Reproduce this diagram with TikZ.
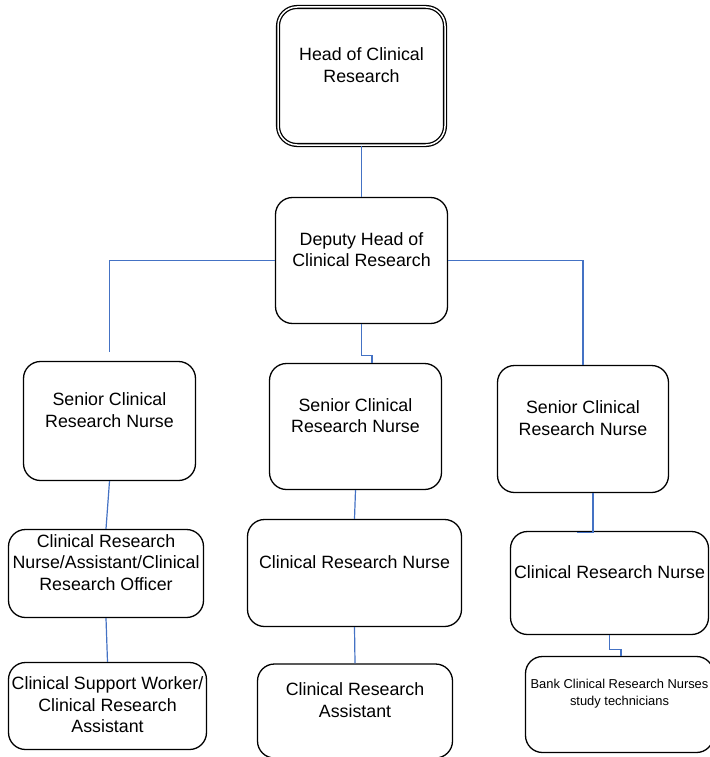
\documentclass[tikz,border=0pt]{standalone}
\usepackage{fontspec}
\setmainfont{Liberation Sans}
\definecolor{linkblue}{HTML}{4472C4}

\begin{document}
\begin{tikzpicture}[x = 1pt, y = -1pt,
  post/.style = {draw, shape = rectangle, rounded corners = 17pt, line width = 1.3pt},
  title/.style = {font = \fontsize{17.8}{21.5}\selectfont, align = center, yshift = 11pt},
  small/.style = {font = \fontsize{12.9}{17}\selectfont, align = center, yshift = 11pt},
  link/.style = {draw = linkblue, line width = 1.2pt}]
\useasboundingbox (0,0) rectangle (709,757);

\node[post, double, double distance = 1.5pt, line width = 1.3pt, rounded corners = 19pt, minimum width = 167pt, minimum height = 138pt, label = {[title]center:Head of Clinical\\Research}] (hcr) at (361.5,76) {};
\node[post, minimum width = 172pt, minimum height = 126pt, label = {[title]center:Deputy Head of\\Clinical Research}] (dhcr) at (361.5,260.5) {};

\node[post, minimum width = 172pt, minimum height = 119pt, label = {[title]center:Senior Clinical\\Research Nurse}] (scrn1) at (109.5,421) {};
\node[post, minimum width = 172pt, minimum height = 126pt, label = {[title]center:Senior Clinical\\Research Nurse}] (scrn2) at (355.5,426.5) {};
\node[post, minimum width = 171pt, minimum height = 127pt, label = {[title]center:Senior Clinical\\Research Nurse}] (scrn3) at (583,429) {};

\node[post, minimum width = 195pt, minimum height = 88pt, label = {[title]center:Clinical Research\\Nurse/Assistant/Clinical\\Research Officer}] (crn1) at (106,573.5) {};
\node[post, minimum width = 214pt, minimum height = 107pt, label = {[title]center:Clinical Research Nurse}] (crn2) at (354.5,573) {};
\node[post, minimum width = 198pt, minimum height = 103pt, label = {[title]center:Clinical Research Nurse}] (crn3) at (609.5,583) {};

\node[post, minimum width = 198pt, minimum height = 87pt, label = {[title, yshift = -10pt]center:Clinical Support Worker/\\Clinical Research\\Assistant}] (csw) at (107.5,706) {};
\node[post, minimum width = 195pt, minimum height = 94pt, label = {[title]center:Clinical Research\\Assistant}] (cra) at (355,711) {};
\node[post, minimum width = 188pt, minimum height = 96pt, label = {[small]center:Bank Clinical Research Nurses\\study technicians}] (bank) at (619.5,704.5) {};

\draw[link] (hcr.south) -- (dhcr.north);
\draw[link] (dhcr.west) -| ([yshift = 9pt]scrn1.north);
\draw[link] (dhcr.south) -- ++(0,31) -| ([xshift = 16.5pt]scrn2.north);
\draw[link] (dhcr.east) -| (scrn3.north);
\draw[link] (scrn1.south) -- (crn1.north);
\draw[link] (crn1.south) -- (csw.north);
\draw[link] (scrn2.south) -- (crn2.north);
\draw[link] (crn2.south) -- (cra.north);
\draw[link] ([xshift = 10pt]scrn3.south) |- ([xshift = -32.5pt, yshift = -2pt]crn3.north);
\draw[link] (crn3.south) -- ++(0,14) -| ([xshift = 1.5pt]bank.north);
\end{tikzpicture}
\end{document}
